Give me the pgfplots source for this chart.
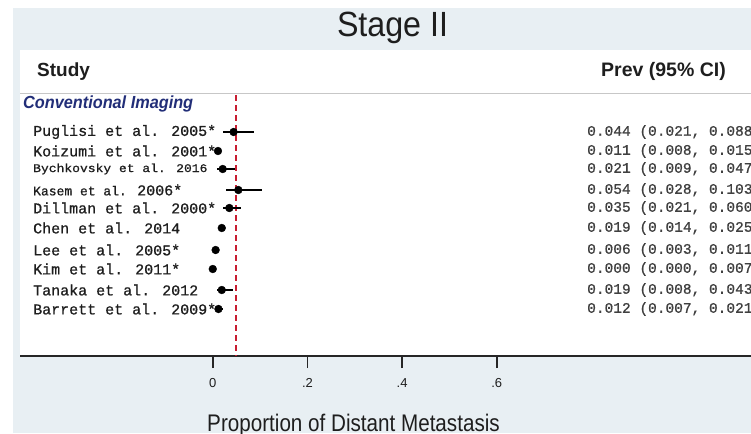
\documentclass[border=0pt]{standalone}
\usepackage{pgfplots}
\pgfplotsset{compat=1.18}
\usepackage{pgfplotstable}
\usepackage{fontspec}
\setmainfont{Liberation Sans}
\newfontfamily\mono[RawFeature={embolden=0.8}]{Liberation Mono}
\definecolor{bgblue}{RGB}{232,239,243}
\definecolor{navy}{RGB}{34,46,120}
\definecolor{refred}{RGB}{200,30,50}
\definecolor{txt}{RGB}{30,30,30}

\pgfplotstableread{
row  est   em    ep
-132 0.044 0.023 0.044
-151 0.011 0.003 0.004
-169 0.021 0.012 0.026
-190 0.054 0.026 0.049
-208 0.035 0.014 0.025
-228 0.019 0.005 0.006
-250 0.006 0.003 0.005
-269 0.000 0.000 0.007
-290 0.019 0.011 0.024
-309 0.012 0.005 0.009
}\studies

\begin{document}
\begin{tikzpicture}[x=1pt,y=1pt]
\useasboundingbox (0,0) rectangle (751,-433);
\clip (0,0) rectangle (751,-433);
\fill[white] (0,0) rectangle (751,-433);
\fill[bgblue] (13,-8) rectangle (751,-433);
\fill[white] (20,-50) rectangle (751,-356);
\draw[black!22, line width=1pt] (20,-94) -- (751,-94);

% title and headers
\node[anchor=base, font=\fontsize{35}{40}\selectfont, text=txt, xscale=0.92, inner sep=0] at (392.5,-37) {Stage II};
\node[anchor=base west, font=\bfseries\fontsize{19}{22}\selectfont, text=txt, inner sep=0] at (37,-77) {Study};
\node[anchor=base west, font=\bfseries\fontsize{19.5}{22}\selectfont, text=txt, inner sep=0] at (601,-77) {Prev (95\% CI)};
\node[anchor=west, font=\bfseries\itshape\fontsize{17.5}{20}\selectfont, text=navy, xscale=0.93, inner sep=0] at (23,-104) {Conventional Imaging};

% study labels
\begin{scope}[every node/.style={anchor=west, inner sep=0, text=txt, font=\mono\fontsize{15}{17}\selectfont}]
\node at (33,-132) {Puglisi et al. 2005*};
\node at (33,-151) {Koizumi et al. 2001*};
\node[font=\mono\fontsize{13}{15}\selectfont, yscale=0.9] at (33,-169) {Bychkovsky et al. 2016};
\node at (33,-190) {{\fontsize{13}{15}\selectfont Kasem et al. }2006*};
\node at (33,-208) {Dillman et al. 2000*};
\node at (33,-228) {Chen et al. 2014};
\node at (33,-250) {Lee et al. 2005*};
\node at (33,-269) {Kim et al. 2011*};
\node at (33,-290) {Tanaka et al. 2012};
\node at (33,-309) {Barrett et al. 2009*};
\end{scope}

% estimates text
\begin{scope}[every node/.style={anchor=west, inner sep=0, text=txt!85, font=\mono\fontsize{14.5}{17}\selectfont}]
\node at (587,-132) {0.044 (0.021, 0.088)};
\node at (587,-151) {0.011 (0.008, 0.015)};
\node at (587,-169) {0.021 (0.009, 0.047)};
\node at (587,-190) {0.054 (0.028, 0.103)};
\node at (587,-208) {0.035 (0.021, 0.060)};
\node at (587,-228) {0.019 (0.014, 0.025)};
\node at (587,-250) {0.006 (0.003, 0.011)};
\node at (587,-269) {0.000 (0.000, 0.007)};
\node at (587,-290) {0.019 (0.008, 0.043)};
\node at (587,-309) {0.012 (0.007, 0.021)};
\end{scope}

\begin{axis}[
  at={(20pt,-356pt)}, anchor=south west,
  x=473.3pt, y=1pt,
  xmin=-0.4073, xmax=1.1375,
  ymin=-356, ymax=-50,
  axis x line=bottom, axis y line=none,
  x axis line style={-, line width=1.3pt, black!85},
  xtick={0,0.2,0.4,0.6},
  xticklabels={0,.2,.4,.6},
  xticklabel style={font=\fontsize{13}{15}\selectfont, text=txt, yshift=-7pt},
  tick align=outside,
  major tick length=12pt,
  major tick style={line width=1.8pt, black!85},
  ytick=\empty,
  clip=false,
]
\addplot[refred, line width=1.2pt, dash pattern=on 6pt off 4pt] coordinates {(0.049,-95) (0.049,-356)};
\addplot[black, only marks, mark=*, mark size=3.9pt,
  error bars/.cd, x dir=both, x explicit, error mark=none,
  error bar style={line width=2pt, black}]
  table[x=est, y=row, x error minus=em, x error plus=ep] {\studies};
\end{axis}

\node[anchor=base, font=\fontsize{24}{28}\selectfont, text=txt, xscale=0.86, inner sep=0] at (353.5,-431) {Proportion of Distant Metastasis};
\end{tikzpicture}
\end{document}
